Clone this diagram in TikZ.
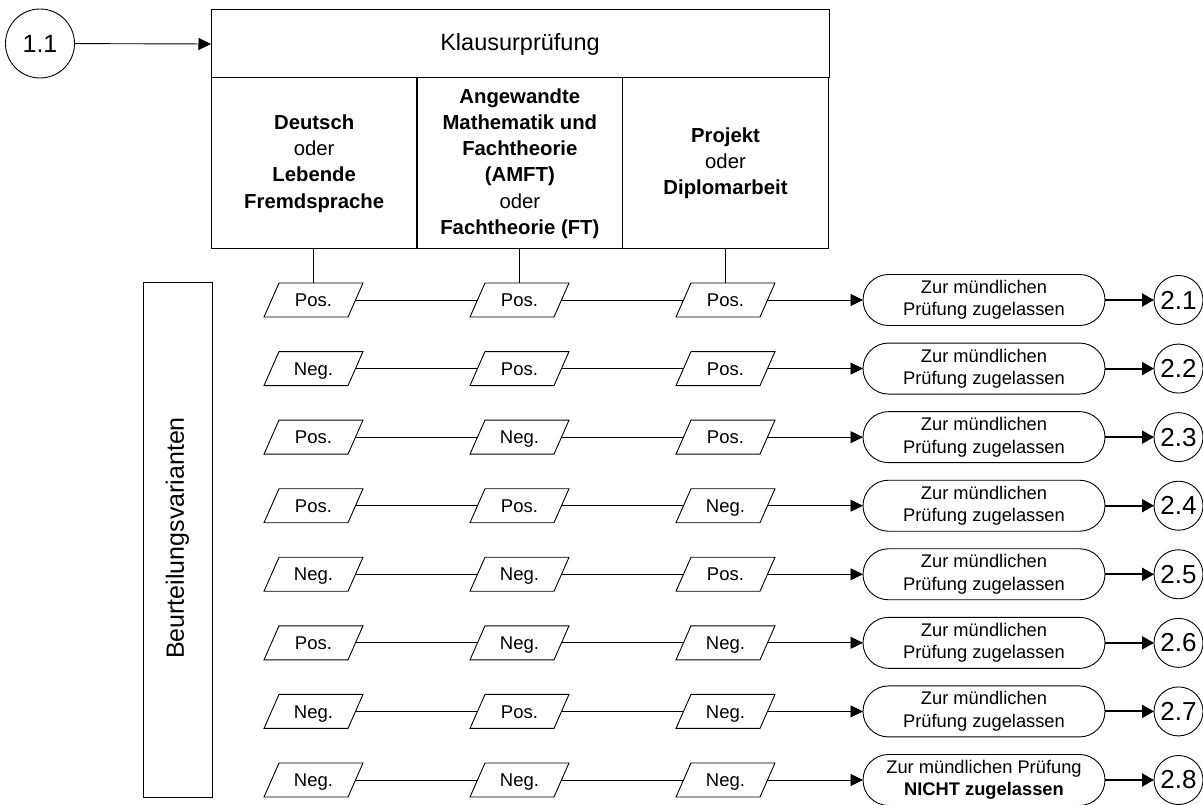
\documentclass[tikz,border=0pt]{standalone}
\usepackage{fontspec}
\setmainfont{Liberation Sans}
\usetikzlibrary{arrows.meta}

% parallelogram outline around a rectangular node
\newcommand\slantframe[1]{%
  \draw[gradeline] ([xshift=7.5pt]#1.north west) -- ([xshift=7.5pt]#1.north east)
    -- ([xshift=-7.5pt]#1.south east) -- ([xshift=-7.5pt]#1.south west) -- cycle;}

\begin{document}
\begin{tikzpicture}[x=1pt,y=-1pt,
  every node/.style={inner sep=0pt, outer sep=0pt, align=center},
  frame/.style={draw, line width=1pt},
  cell/.style={frame, rectangle, minimum width=205.67pt, minimum height=171pt,
    font=\fontsize{20.3}{26.2}\selectfont},
  grade/.style={rectangle, minimum height=34pt, minimum width=84pt,
    text height=13.3pt, text depth=0pt, font=\fontsize{18.5}{21}\selectfont},
  gradeline/.style={line width=0.9pt},
  result/.style={draw, line width=0.9pt, rectangle, rounded corners=25.5pt,
    minimum width=242pt, minimum height=51pt, font=\fontsize{18.3}{22.5}\selectfont},
  marker/.style={draw, line width=0.9pt, circle, minimum size=#1},
  link/.style={line width=0.9pt},
  tip/.style={line width=0.9pt, -{Triangle[length=12.5pt,width=12pt]}},
  tipbold/.style={line width=2pt, -{Triangle[length=12pt,width=13pt]}}
]
\useasboundingbox (0,0) rectangle (1203,805);

% entry marker and exam block
\node[marker=69pt, font=\fontsize{25}{28}\selectfont] (c11) at (40,43.5) {1.1};
\node[frame, rectangle, minimum width=618pt, minimum height=68pt,
  font=\fontsize{23.5}{26}\selectfont] (klaus) at (520,44) {Klausurprüfung};
\node[cell] (colA) at (314.17,163.5)
  {\textbf{Deutsch}\\oder\\\textbf{Lebende}\\\textbf{Fremdsprache}};
\node[cell] (colB) at (519.83,163.5)
  {\textbf{Angewandte}\\\textbf{Mathematik und}\\\textbf{Fachtheorie}\\\textbf{(AMFT)}\\oder\\\textbf{Fachtheorie (FT)}};
\node[cell] (colC) at (725.5,163.5)
  {\textbf{Projekt}\\oder\\\textbf{Diplomarbeit}};
\draw[tip] (c11) -- (klaus.west);

% side label
\node[frame, rectangle, minimum width=69pt, minimum height=514pt] (vbox) at (177.5,540) {};
\node[rotate=90, font=\fontsize{25}{28}\selectfont] (vtext) at (177.5,538) {Beurteilungsvarianten};

% assessment variants
\foreach \i/\a/\b/\c in {1/Pos./Pos./Pos., 2/Neg./Pos./Pos., 3/Pos./Neg./Pos.,
    4/Pos./Pos./Neg., 5/Neg./Neg./Pos., 6/Pos./Neg./Neg., 7/Neg./Pos./Neg.,
    8/Neg./Neg./Neg.}{
  \pgfmathsetmacro{\yy}{300+68.571*(\i-1)}
  \node[grade] (a\i) at (313.5,\yy) {\a};
  \node[grade] (b\i) at (519.5,\yy) {\b};
  \node[grade] (c\i) at (725.5,\yy) {\c};
  \slantframe{a\i}
  \slantframe{b\i}
  \slantframe{c\i}
  \node[result] (r\i) at (984,\yy)
    {\ifnum\i=8 Zur mündlichen Prüfung\\\textbf{NICHT zugelassen}\else Zur mündlichen\\Prüfung zugelassen\fi};
  \node[marker=49pt, font=\fontsize{26}{28}\selectfont] (e\i) at (1178.5,\yy) {2.\i};
  \draw[link] (a\i.east) -- (b\i.west);
  \draw[link] (b\i.east) -- (c\i.west);
  \draw[tip] (c\i.east) -- (r\i.west);
  \draw[tipbold] (r\i.east) -- (e\i.west);
}

% links from the exam parts to the first variant
\draw[link] (colA.south -| a1.north) -- (a1.north);
\draw[link] (colB.south -| b1.north) -- (b1.north);
\draw[link] (colC.south -| c1.north) -- (c1.north);
\end{tikzpicture}
\end{document}
